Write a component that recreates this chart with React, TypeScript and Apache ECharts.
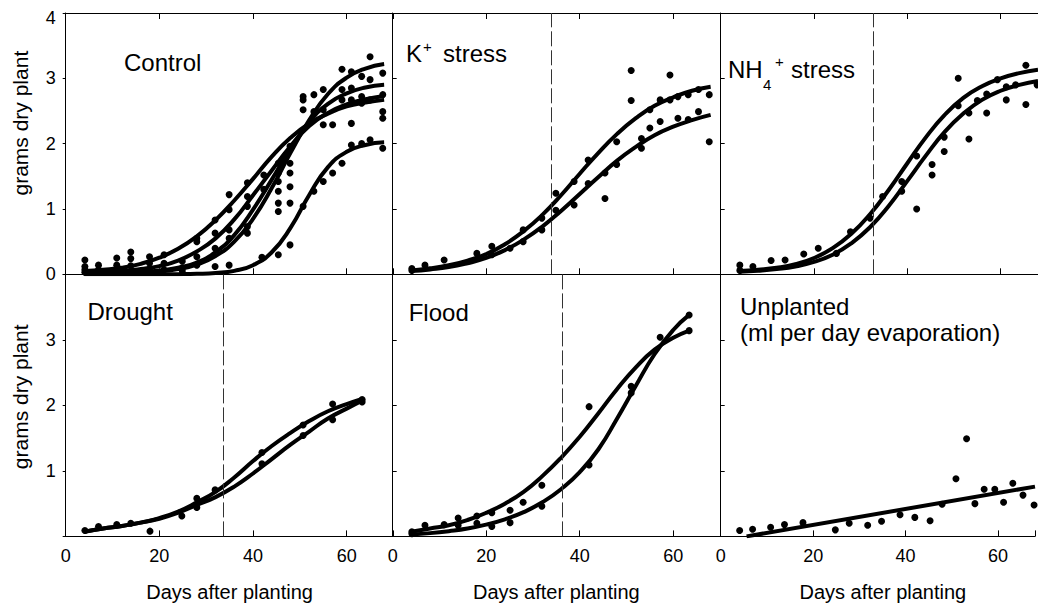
import React, { useEffect, useRef } from 'react';
import * as echarts from 'echarts';

const FONT = "'Liberation Sans', Arial, Helvetica, sans-serif";

// ---------- data ----------
const curveDays = [4, 8, 12, 16, 20, 24, 28, 32, 36, 40, 44, 48, 52, 56, 60, 64, 68];

const controlCurve1 = [0.05, 0.07, 0.1, 0.16, 0.255, 0.39, 0.58, 0.83, 1.13, 1.46, 1.8, 2.09, 2.31, 2.46, 2.57, 2.63, 2.67];
const controlCurve2 = [0.03, 0.04, 0.05, 0.08, 0.125, 0.21, 0.35, 0.55, 0.84, 1.21, 1.59, 1.96, 2.27, 2.47, 2.6, 2.68, 2.73];
const controlCurve3 = [0.02, 0.025, 0.03, 0.04, 0.06, 0.1, 0.18, 0.34, 0.6, 0.99, 1.45, 1.92, 2.33, 2.61, 2.77, 2.86, 2.9];
const controlCurve4 = [0.01, 0.015, 0.02, 0.03, 0.045, 0.08, 0.148, 0.28, 0.5, 0.85, 1.32, 1.86, 2.36, 2.76, 3.01, 3.15, 3.22];
const controlCurve5 = [0.0, 0.0, 0.0, 0.0, 0.0, 0.002, 0.007, 0.02, 0.053, 0.139, 0.337, 0.71, 1.215, 1.64, 1.875, 1.98, 2.02];

const kCurveUpper = [0.06, 0.091, 0.139, 0.21, 0.31, 0.46, 0.66, 0.91, 1.21, 1.54, 1.86, 2.15, 2.39, 2.58, 2.71, 2.81, 2.87];
const kCurveLower = [0.05, 0.075, 0.11, 0.17, 0.25, 0.37, 0.53, 0.73, 0.97, 1.23, 1.49, 1.74, 1.95, 2.13, 2.26, 2.36, 2.44];

const nhCurveUpper = [0.05, 0.07, 0.1, 0.155, 0.25, 0.4, 0.62, 0.92, 1.29, 1.7, 2.1, 2.44, 2.7, 2.88, 3.0, 3.08, 3.13];
const nhCurveLower = [0.04, 0.055, 0.08, 0.12, 0.19, 0.3, 0.475, 0.72, 1.045, 1.43, 1.82, 2.18, 2.46, 2.67, 2.81, 2.9, 2.96];

const droughtDays = [4, 8, 12, 16, 20, 24, 28, 32, 36, 40, 44, 48, 52, 56, 60, 63.3];
const droughtCurveUpper = [0.07, 0.12, 0.16, 0.21, 0.28, 0.38, 0.52, 0.68, 0.9, 1.15, 1.38, 1.58, 1.76, 1.91, 2.02, 2.1];
const droughtCurveLower = [0.07, 0.12, 0.16, 0.21, 0.27, 0.36, 0.48, 0.6, 0.76, 0.96, 1.18, 1.4, 1.6, 1.8, 1.95, 2.07];

const floodDays = [4, 8, 12, 16, 20, 24, 28, 32, 36, 40, 44, 48, 52, 56, 60, 63.4];
const floodCurveEarly = [0.07, 0.12, 0.17, 0.25, 0.36, 0.5, 0.68, 0.92, 1.2, 1.52, 1.88, 2.25, 2.58, 2.85, 3.03, 3.14];
const floodCurveLate = [0.03, 0.05, 0.08, 0.12, 0.18, 0.26, 0.37, 0.52, 0.72, 0.98, 1.33, 1.8, 2.3, 2.78, 3.15, 3.38];

const unplantedLineDays = [5.6, 68];
const unplantedLineValues = [0.0, 0.76];

const controlPoints = [
  [4.1, 0.22], [4.1, 0.12], [4.1, 0.07], [4.1, 0.03],
  [7, 0.14], [7, 0.07], [7, 0.03],
  [10.9, 0.25], [10.9, 0.14], [10.9, 0.05],
  [13.9, 0.34], [13.9, 0.24], [13.9, 0.13],
  [17.9, 0.27], [17.9, 0.17], [17.9, 0.08],
  [21, 0.3], [21, 0.17], [21, 0.07],
  [24.9, 0.2], [24.9, 0.1], [24.9, 0.05],
  [28, 0.55], [28, 0.5], [28, 0.27], [28, 0.14],
  [31.9, 0.83], [31.9, 0.63], [31.9, 0.4], [31.9, 0.12],
  [34.9, 1.22], [34.9, 0.99], [34.9, 0.68], [34.9, 0.55], [34.9, 0.14],
  [38.8, 1.4], [38.8, 1.19], [38.8, 1.04], [38.8, 0.73], [38.8, 0.63],
  [42.3, 1.52], [42.3, 1.3], [41.9, 0.26],
  [45.4, 1.7], [45.4, 1.55], [45.4, 1.42], [45.4, 1.27], [45.4, 1.09], [45.4, 0.96], [45.4, 0.3],
  [47.9, 1.96], [47.9, 1.7], [47.9, 1.55], [47.9, 1.34], [47.9, 1.09], [47.9, 0.45],
  [50.7, 2.72], [50.7, 2.67], [50.7, 2.52], [50.7, 1.04],
  [53, 2.75], [53, 2.49], [53, 1.27],
  [55, 2.83], [55, 2.52], [55, 2.29], [55, 1.42],
  [57, 2.29], [57, 1.55],
  [59, 3.14], [59, 2.83], [59, 2.67], [59, 1.7],
  [61, 3.1], [61, 2.85], [61, 2.67], [61, 2.31], [61, 1.98],
  [63.2, 3.03], [63.2, 2.72], [63.2, 2.62], [63.2, 2.0],
  [65, 3.33], [65, 2.98], [65, 2.67], [65, 2.06],
  [67.7, 3.08], [67.7, 2.75], [67.7, 2.49], [67.7, 2.39], [67.7, 1.93],
];

const kPoints = [
  [4.1, 0.09], [4.1, 0.06], [6.9, 0.14], [11, 0.22], [18, 0.32],
  [21.2, 0.43], [21.2, 0.3], [25.1, 0.4], [27.9, 0.68], [27.9, 0.5],
  [31.9, 0.86], [31.9, 0.68], [34.9, 1.24], [34.9, 0.98], [38.8, 1.42], [38.8, 1.06],
  [41.8, 1.75], [41.8, 1.39], [45.4, 1.55], [45.4, 1.16], [47.9, 2.03], [47.9, 1.68],
  [51, 3.12], [51, 2.66], [53.2, 1.93], [53.2, 2.08], [55, 2.24], [55, 2.52],
  [57.2, 2.67], [57.2, 2.34], [59.3, 3.05], [59.3, 2.67], [61, 2.72], [61, 2.39],
  [63.2, 2.75], [63.2, 2.37], [65.4, 2.83], [65.4, 2.49], [67.7, 2.75], [67.7, 2.03],
];

const nhPoints = [
  [4.1, 0.14], [4.1, 0.06], [6.9, 0.12], [10.8, 0.21], [13.8, 0.22], [17.8, 0.31],
  [20.9, 0.4], [24.8, 0.32], [27.8, 0.65], [32, 0.86], [34.7, 1.19],
  [38.8, 1.27], [38.8, 1.42], [42, 1.81], [42, 1.0], [45.3, 1.68], [45.3, 1.52],
  [47.9, 2.1], [47.9, 1.88], [50.9, 3.0], [50.9, 2.58], [53.2, 2.47], [53.2, 2.07],
  [55, 2.66], [57, 2.76], [57, 2.47], [59.3, 2.98], [61.2, 2.87], [61.2, 2.67],
  [63.2, 2.9], [65.4, 3.2], [65.4, 2.6], [67.8, 2.9],
];

const droughtPoints = [
  [4.1, 0.09], [7, 0.15], [10.9, 0.18], [13.9, 0.2], [18, 0.08], [24.8, 0.31],
  [28, 0.58], [28, 0.44], [31.9, 0.71], [41.9, 1.28], [41.9, 1.11],
  [50.7, 1.7], [50.7, 1.54], [57, 2.02], [57, 1.78], [63.3, 2.09], [63.3, 2.05],
];

const floodPoints = [
  [4.1, 0.07], [4.1, 0.04], [6.9, 0.17], [11, 0.18], [14, 0.28], [14, 0.17],
  [18, 0.31], [18, 0.2], [21.2, 0.36], [21.2, 0.15], [25.1, 0.4], [25.1, 0.21],
  [27.9, 0.52], [31.9, 0.78], [31.9, 0.46], [42, 1.98], [42, 1.09],
  [51, 2.29], [51, 2.19], [57.2, 3.04], [63.4, 3.38], [63.4, 3.14],
];

const unplantedPoints = [
  [4.1, 0.09], [6.9, 0.11], [10.8, 0.14], [13.8, 0.18], [17.8, 0.21], [24.8, 0.1],
  [27.8, 0.2], [31.8, 0.17], [34.8, 0.23], [38.8, 0.33], [42, 0.29], [45.3, 0.24],
  [47.9, 0.49], [50.9, 0.88], [53.2, 1.49], [55, 0.5], [57, 0.72], [59.3, 0.72],
  [61.2, 0.52], [63.2, 0.81], [65.4, 0.63], [67.8, 0.48],
];

const stressStartDay = { k: 33.9, nh: 32.7, drought: 33.65, flood: 36.3 };

const yTicksTop = [0, 1, 2, 3, 4];
const yTicksBottom = [1, 2, 3];
const xTickLabels = [0, 20, 40, 60];

// ---------- layout ----------
const colLeft = [65.7, 392.7, 720.7];
const colWidth = [327.8, 327.3, 317.3];
const colMax = [70, 70, 68];
const rowTop = [13, 274.3];
const rowHeight = [261.3, 262.1];

function curveSeries(idx: number, xs: number[], ys: number[], width = 4) {
  return {
    type: 'line',
    xAxisIndex: idx,
    yAxisIndex: idx,
    data: xs.map((x, i) => [x, ys[i]]),
    smooth: 0.5,
    showSymbol: false,
    symbol: 'none',
    lineStyle: { color: '#000', width },
    z: 3,
    silent: true,
  };
}

function pointSeries(idx: number, pts: number[][], dash?: number) {
  const s: any = {
    type: 'scatter',
    xAxisIndex: idx,
    yAxisIndex: idx,
    data: pts,
    symbol: 'circle',
    symbolSize: 7,
    itemStyle: { color: '#000', opacity: 1 },
    z: 4,
    silent: true,
  };
  if (dash !== undefined) {
    s.markLine = {
      silent: true,
      symbol: ['none', 'none'],
      label: { show: false },
      lineStyle: { type: [15, 4], color: '#333', width: 1 },
      data: [{ xAxis: dash }],
    };
  }
  return s;
}

export default function App() {
  const ref = useRef<HTMLDivElement>(null);
  useEffect(() => {
    if (!ref.current) return;
    const chart = echarts.init(ref.current, null, { renderer: 'svg' });

    const grids: any[] = [];
    const xAxes: any[] = [];
    const topAxes: any[] = [];
    const yAxes: any[] = [];
    for (let r = 0; r < 2; r++) {
      for (let c = 0; c < 3; c++) {
        const idx = r * 3 + c;
        grids.push({ left: colLeft[c], top: rowTop[r], width: colWidth[c], height: rowHeight[r], containLabel: false });
        xAxes.push({
          type: 'value',
          gridIndex: idx,
          min: 0,
          max: colMax[c],
          interval: 20,
          axisLine: { show: true, onZero: false, lineStyle: { color: '#000', width: 1 } },
          axisTick: { show: true, inside: true, length: 6, lineStyle: { color: '#000' } },
          axisLabel: {
            show: r === 1,
            fontSize: 18,
            color: '#000',
            fontFamily: FONT,
            margin: 11,
            formatter: (v: number) => (xTickLabels.includes(v) ? String(v) : ''),
          },
          splitLine: { show: false },
          name: r === 1 ? 'Days after planting' : '',
          nameLocation: 'middle',
          nameGap: 46,
          nameTextStyle: {
            fontSize: 20,
            color: '#000',
            fontFamily: FONT,
            padding: c === 2 ? [0, 0, 0, 10] : 0,
          },
        });
        if (r === 0) {
          topAxes.push({
            type: 'value',
            gridIndex: idx,
            position: 'top',
            min: 0,
            max: colMax[c],
            interval: 20,
            axisLine: { show: true, onZero: false, lineStyle: { color: '#000', width: 1 } },
            axisTick: { show: true, inside: true, length: 6, lineStyle: { color: '#000' } },
            axisLabel: { show: false },
            splitLine: { show: false },
          });
        }
        const ticks = r === 0 ? yTicksTop : yTicksBottom;
        yAxes.push({
          type: 'value',
          gridIndex: idx,
          min: 0,
          max: 4,
          interval: 1,
          axisLine: { show: true, onZero: false, lineStyle: { color: '#000', width: 1 } },
          axisTick: { show: true, inside: c !== 0, length: c === 0 ? 3 : 4, lineStyle: { color: '#000' } },
          axisLabel: {
            show: c === 0,
            fontSize: 18,
            color: '#000',
            fontFamily: FONT,
            margin: 10,
            formatter: (v: number) => {
              if (!ticks.includes(v)) return '';
              return v === 4 ? '{low|4}' : String(v);
            },
            rich: { low: { fontSize: 18, fontFamily: FONT, color: '#000', padding: [10, 0, 0, 0] } },
          },
          splitLine: { show: false },
          name: c === 0 ? 'grams dry plant' : '',
          nameLocation: 'middle',
          nameGap: 35,
          nameTextStyle: {
            fontSize: 21,
            color: '#000',
            fontFamily: FONT,
            padding: r === 0 ? [0, 0, 0, 41] : [0, 0, 0, 17],
          },
        });
      }
    }

    const series: any[] = [
      curveSeries(0, curveDays, controlCurve1),
      curveSeries(0, curveDays, controlCurve2),
      curveSeries(0, curveDays, controlCurve3),
      curveSeries(0, curveDays, controlCurve4),
      curveSeries(0, curveDays, controlCurve5),
      pointSeries(0, controlPoints),
      curveSeries(1, curveDays, kCurveUpper),
      curveSeries(1, curveDays, kCurveLower),
      pointSeries(1, kPoints, stressStartDay.k),
      curveSeries(2, curveDays, nhCurveUpper),
      curveSeries(2, curveDays, nhCurveLower),
      pointSeries(2, nhPoints, stressStartDay.nh),
      curveSeries(3, droughtDays, droughtCurveUpper),
      curveSeries(3, droughtDays, droughtCurveLower),
      pointSeries(3, droughtPoints, stressStartDay.drought),
      curveSeries(4, floodDays, floodCurveEarly),
      curveSeries(4, floodDays, floodCurveLate),
      pointSeries(4, floodPoints, stressStartDay.flood),
      curveSeries(5, unplantedLineDays, unplantedLineValues, 4),
      pointSeries(5, unplantedPoints),
    ];

    const big = { fontSize: 24, fontFamily: FONT, fill: '#000' };
    const small = { fontSize: 15, fontFamily: FONT, fill: '#000' };
    const txt = (x: number, y: number, text: string, st: any) => ({
      type: 'text',
      x,
      y,
      silent: true,
      style: { ...st, text, align: 'left', verticalAlign: 'middle' },
    });

    chart.setOption({
      animation: false,
      backgroundColor: '#fff',
      textStyle: { fontFamily: FONT },
      grid: grids,
      xAxis: [...xAxes, ...topAxes],
      yAxis: yAxes,
      series,
      graphic: [
        txt(124, 62, 'Control', big),
        txt(406, 53, 'K', big),
        txt(423, 46, '+', small),
        txt(443, 53, 'stress', big),
        txt(728, 69, 'NH', big),
        txt(763, 84, '4', small),
        txt(775, 61, '+', small),
        txt(791, 69, 'stress', big),
        txt(87.5, 311, 'Drought', big),
        txt(408.7, 312, 'Flood', big),
        txt(740, 306, 'Unplanted', big),
        txt(740, 332, '(ml per day evaporation)', big),
      ],
    });

    return () => chart.dispose();
  }, []);

  return (
    <div
      ref={ref}
      style={{ position: 'fixed', left: 0, top: 0, width: 1038, height: 605, background: '#fff' }}
    />
  );
}
